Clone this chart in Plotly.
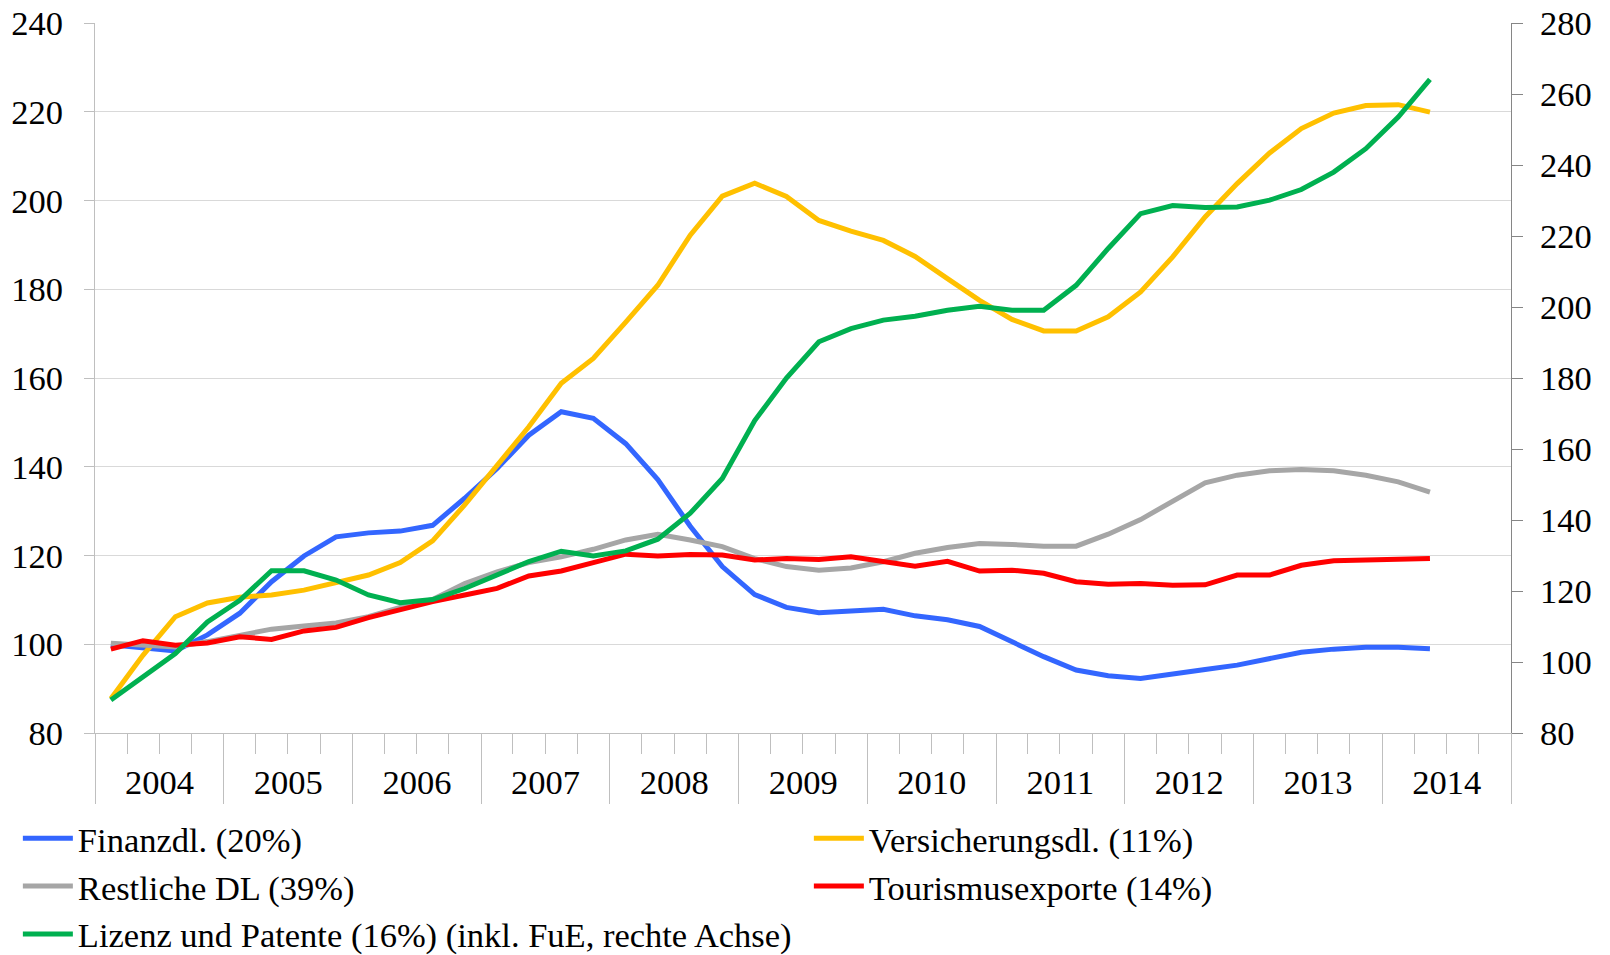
import plotly.graph_objects as go

# ---- categories (quarter mid-points, 2004Q1 .. 2014Q2) ----
years = [2004, 2005, 2006, 2007, 2008, 2009, 2010, 2011, 2012, 2013, 2014]
quarter_mid = ["02-15", "05-16", "08-16", "11-15"]
quarters = [f"{y}-{m}" for y in years for m in quarter_mid][:42]

# ---- series (index values) ----
finanz = [99.9, 99.1, 98.5, 102.1, 107.0, 114.1, 119.9, 124.2, 125.1, 125.5,
          126.8, 132.9, 139.6, 147.1, 152.4, 150.9, 145.2, 137.1, 126.6, 117.5,
          111.2, 108.3, 107.1, 107.5, 107.9, 106.4, 105.5, 104.0, 100.6, 97.2,
          94.2, 92.9, 92.3, 93.2, 94.3, 95.3, 96.8, 98.2, 98.9, 99.3,
          99.3, 99.0]
versicherung = [87.7, 97.5, 106.2, 109.3, 110.6, 111.1, 112.2, 113.9, 115.6, 118.4,
                123.3, 131.4, 140.4, 149.0, 158.8, 164.4, 172.6, 180.9, 192.2, 201.0,
                203.9, 200.9, 195.5, 193.1, 191.0, 187.4, 182.4, 177.5, 173.2, 170.6,
                170.6, 173.8, 179.4, 187.3, 196.3, 203.8, 210.7, 216.2, 219.7, 221.4,
                221.6, 219.9]
restliche = [100.2, 99.7, 99.4, 100.6, 102.1, 103.4, 104.1, 104.8, 106.2, 108.3,
             110.1, 113.7, 116.3, 118.4, 119.7, 121.4, 123.5, 124.8, 123.5, 122.0,
             119.3, 117.5, 116.7, 117.2, 118.6, 120.5, 121.8, 122.7, 122.5, 122.1,
             122.1, 124.8, 128.1, 132.2, 136.4, 138.1, 139.1, 139.4, 139.1, 138.1,
             136.6, 134.3]
tourismus = [98.9, 100.8, 99.8, 100.3, 101.7, 101.1, 103.0, 103.8, 106.0, 107.9,
             109.6, 111.1, 112.6, 115.4, 116.5, 118.4, 120.3, 119.9, 120.2, 120.1,
             119.0, 119.3, 119.1, 119.7, 118.7, 117.6, 118.7, 116.5, 116.7, 116.0,
             114.1, 113.5, 113.7, 113.3, 113.4, 115.6, 115.6, 117.8, 118.8, 119.0,
             119.3, 119.3]
lizenz = [89.3, 95.9, 102.4, 111.3, 117.4, 125.7, 125.7, 123.1, 118.9, 116.7,
          117.6, 120.7, 124.6, 128.3, 131.2, 129.9, 131.3, 134.6, 141.9, 151.7,
          168.0, 180.0, 190.2, 193.9, 196.3, 197.4, 199.1, 200.2, 199.1, 199.1,
          206.1, 216.5, 226.3, 228.6, 228.0, 228.2, 230.1, 233.1, 238.0, 244.6,
          253.5, 264.1]

names = ["Finanzdl. (20%)", "Versicherungsdl. (11%)", "Restliche DL (39%)",
         "Tourismusexporte (14%)", "Lizenz und Patente (16%) (inkl. FuE, rechte Achse)"]
colors = ["#3366FF", "#FFC000", "#A6A6A6", "#FF0000", "#00B050"]

FONT = "Liberation Serif, Times New Roman, serif"
FS = 34.5

fig = go.Figure()
series = [finanz, versicherung, restliche, tourismus, lizenz]
legend_of = ["legend", "legend2", "legend", "legend2", "legend"]
axis_of = ["y", "y", "y", "y", "y2"]
for s, n, c, lg, ax in zip(series, names, colors, legend_of, axis_of):
    fig.add_trace(go.Scatter(x=quarters, y=s, name=n, mode="lines",
                             line=dict(color=c, width=5),
                             legend=lg, yaxis=ax))

fig.update_layout(
    width=1610, height=955,
    margin=dict(l=95, r=99, t=23, b=222, autoexpand=False),
    paper_bgcolor="white", plot_bgcolor="white",
    font=dict(family=FONT, size=FS, color="black"),
    showlegend=True,
    xaxis=dict(
        type="date", range=["2004-01-01", "2015-01-01"],
        tick0="2004-01-01", dtick="M12", tickformat="%Y",
        ticklabelmode="period",
        ticks="outside", ticklen=70, tickwidth=1, tickcolor="#BFBFBF",
        ticklabelstandoff=-51,
        showline=True, linecolor="#BFBFBF", linewidth=1,
        showgrid=False, zeroline=False,
        minor=dict(ticks="outside", ticklen=20, tickwidth=1, tickcolor="#BFBFBF",
                   dtick="M3", tick0="2004-01-01", showgrid=False),
    ),
    yaxis=dict(
        range=[80, 240], tick0=80, dtick=20,
        showgrid=True, gridcolor="#D9D9D9", gridwidth=1,
        showline=True, linecolor="#BFBFBF", linewidth=1,
        ticks="outside", ticklen=10, tickcolor="#BFBFBF",
        ticklabelstandoff=14, zeroline=False,
    ),
    yaxis2=dict(
        range=[80, 280], tick0=80, dtick=20, overlaying="y", side="right",
        showgrid=False, showline=True, linecolor="#868686", linewidth=1,
        ticks="outside", ticklen=11, tickcolor="#868686",
        ticklabelstandoff=10, zeroline=False,
    ),
    legend=dict(xref="container", yref="container", x=0.0111, y=0.1526,
                xanchor="left", yanchor="top", orientation="v",
                itemwidth=50, tracegroupgap=0, bgcolor="rgba(0,0,0,0)",
                font=dict(family=FONT, size=FS, color="black")),
    legend2=dict(xref="container", yref="container", x=0.5024, y=0.1526,
                 xanchor="left", yanchor="top", orientation="v",
                 itemwidth=50, tracegroupgap=0, bgcolor="rgba(0,0,0,0)",
                 font=dict(family=FONT, size=FS, color="black")),
)

fig.write_html("out.html",
               config={"displayModeBar": False},
               post_script="document.body.style.margin='0px';document.body.style.overflow='hidden';")
